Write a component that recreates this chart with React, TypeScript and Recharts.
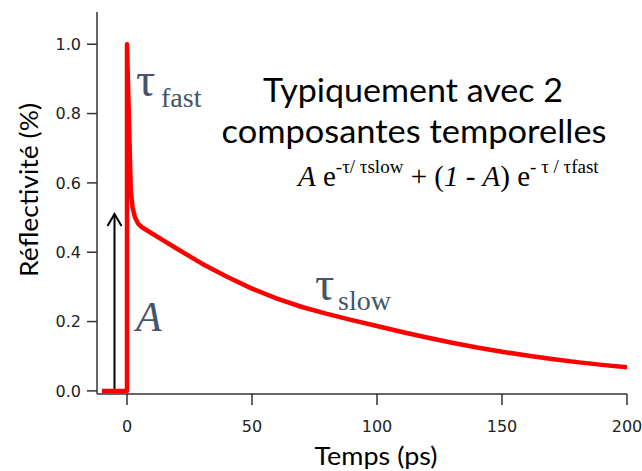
import React from "react";
import { LineChart, Line, XAxis, YAxis, ReferenceLine } from "recharts";

// delay (ps) and reflectivity (%)
const TIMES_PS = [
  -10, 0, 0, 1.5, 2.2, 3.2, 4.5, 6, 10, 15, 20, 30, 40, 50, 60, 70, 80, 90,
  100, 110, 120, 130, 140, 150, 160, 170, 180, 190, 200,
];
const REFLECTIVITY = [
  0, 0, 1.0, 0.58, 0.53, 0.5, 0.482, 0.472, 0.454, 0.432, 0.41, 0.367, 0.329,
  0.295, 0.266, 0.242, 0.222, 0.204, 0.187, 0.17, 0.154, 0.139, 0.125, 0.113,
  0.102, 0.092, 0.083, 0.075, 0.068,
];
const X_TICKS = [0, 50, 100, 150, 200];
const Y_TICKS = [0, 0.2, 0.4, 0.6, 0.8, 1.0];

// amplitude arrow (A) drawn at t = -5 ps
const ARROW_T = -5;
const ARROW_FROM = 0;
const ARROW_TO = 0.51;

const AXIS_COLOR = "#333333";
const NOTE_COLOR = "#44546A";
const SANS = "Lato, 'Open Sans', sans-serif";
const SERIF = "'Liberation Serif', 'DejaVu Serif', serif";
const TICK_FONT = { fontSize: 16, fill: "#222", fontFamily: "'DejaVu Sans', sans-serif" };

const data = TIMES_PS.map((t, i) => ({ t, r: REFLECTIVITY[i] }));

function Arrow(props: any) {
  const { x1, y1, x2, y2 } = props;
  const top = Math.min(y1, y2);
  const bottom = Math.max(y1, y2);
  return (
    <g>
      <line x1={x1} y1={bottom} x2={x2} y2={top} stroke="#000" strokeWidth={2} />
      <polyline
        points={`${x1 - 7},${top + 12} ${x1},${top} ${x1 + 7},${top + 12}`}
        fill="none"
        stroke="#000"
        strokeWidth={2}
      />
    </g>
  );
}

export default function App() {
  return (
    <div style={{ position: "absolute", left: 0, top: 0, width: 642, height: 471, background: "#fff" }}>
      <LineChart width={642} height={471} data={data} margin={{ top: 12, right: 15, bottom: 0, left: 0 }}>
        <XAxis
          type="number"
          dataKey="t"
          domain={[-12, 200]}
          ticks={X_TICKS}
          interval={0}
          allowDataOverflow
          height={77}
          tickSize={11}
          tickMargin={16}
          stroke={AXIS_COLOR}
          strokeWidth={1.5}
          tick={TICK_FONT}
        />
        <YAxis
          type="number"
          domain={[-0.009, 1.093]}
          ticks={Y_TICKS}
          interval={0}
          allowDataOverflow
          width={97}
          tickSize={10}
          tickMargin={6}
          tickFormatter={(v) => Number(v).toFixed(1)}
          stroke={AXIS_COLOR}
          strokeWidth={1.5}
          tick={TICK_FONT}
        />
        <ReferenceLine
          segment={[
            { x: ARROW_T, y: ARROW_FROM },
            { x: ARROW_T, y: ARROW_TO },
          ]}
          ifOverflow="visible"
          shape={Arrow}
        />
        <Line
          type="linear"
          dataKey="r"
          stroke="#ff0000"
          strokeWidth={4.5}
          strokeLinejoin="round"
          dot={false}
          activeDot={false}
          isAnimationActive={false}
        />
      </LineChart>

      <svg
        width={642}
        height={471}
        style={{ position: "absolute", left: 0, top: 0, pointerEvents: "none", whiteSpace: "pre" }}
      >
        {/* axis titles */}
        <text
          x={38}
          y={190}
          textAnchor="middle"
          transform="rotate(-90 38 190)"
          fontFamily={SANS}
          fontSize={25}
          fill="#000"
          textLength={174}
          lengthAdjust="spacingAndGlyphs"
        >
          Réflectivité (%)
        </text>
        <text
          x={376}
          y={465}
          textAnchor="middle"
          fontFamily={SANS}
          fontSize={25}
          fill="#000"
          textLength={123}
          lengthAdjust="spacingAndGlyphs"
        >
          Temps (ps)
        </text>

        {/* title */}
        <text x={413} y={102} textAnchor="middle" fontFamily={SANS} fontSize={32} fill="#000" textLength={300} lengthAdjust="spacingAndGlyphs">
          Typiquement avec 2
        </text>
        <text x={414} y={143} textAnchor="middle" fontFamily={SANS} fontSize={32} fill="#000" textLength={385} lengthAdjust="spacingAndGlyphs">
          composantes temporelles
        </text>

        {/* formula */}
        <text x={298} y={186} fontFamily={SERIF} fontSize={29} fill="#000">
          <tspan fontStyle="italic">A</tspan>
          <tspan> e</tspan>
          <tspan fontSize={19} dy={-13}>-τ/ τslow</tspan>
          <tspan dy={13}> + (</tspan>
          <tspan fontStyle="italic">1</tspan>
          <tspan> - </tspan>
          <tspan fontStyle="italic">A</tspan>
          <tspan>) e</tspan>
          <tspan fontSize={19} dy={-13}>- τ / τfast</tspan>
        </text>

        {/* curve annotations */}
        <text x={136} y={96} fontFamily={SERIF} fontSize={48} fill={NOTE_COLOR}>τ</text>
        <text x={161} y={107} fontFamily={SERIF} fontSize={28} fill={NOTE_COLOR}>fast</text>
        <text x={315} y={300} fontFamily={SERIF} fontSize={48} fill={NOTE_COLOR}>τ</text>
        <text x={338} y={310} fontFamily={SERIF} fontSize={28} fill={NOTE_COLOR}>slow</text>
        <text x={136} y={331} fontFamily={SERIF} fontStyle="italic" fontSize={42} fill={NOTE_COLOR}>A</text>
      </svg>
    </div>
  );
}
